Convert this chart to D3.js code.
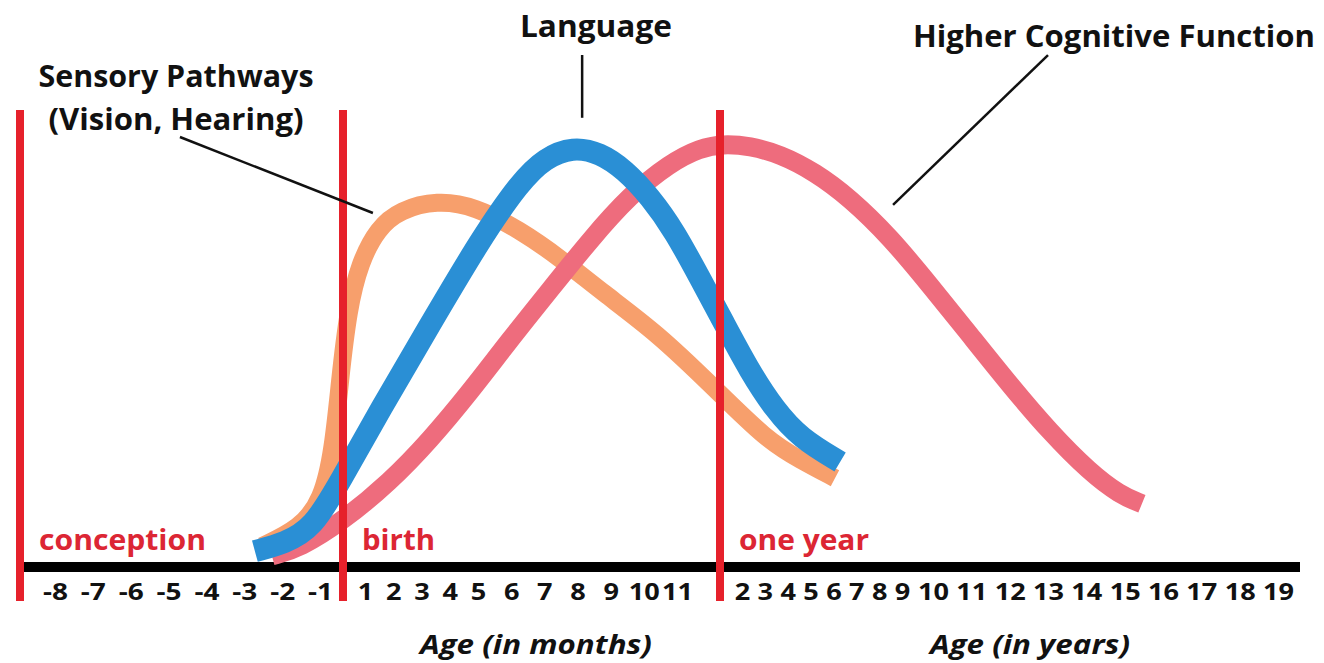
<!DOCTYPE html>
<html>
<head>
<meta charset="utf-8">
<script src="https://cdn.jsdelivr.net/npm/d3@7"></script>
<style>
html,body{margin:0;padding:0;background:#fff;}
svg{display:block;}
text{font-family:"Open Sans","DejaVu Sans",sans-serif;font-weight:700;}
</style>
</head>
<body>
<svg id="chart" width="1324" height="663"></svg>
<script>
// ---------------- DATA (age in months, relative development 0-100) ----------------
const sensoryAge = [-2.53, -1.53, -0.91, -0.43, -0.13, 0.23, 0.77, 1.46, 2.24, 3.55, 4.89, 6.27, 7.47, 8.77, 10.40, 11.84, 37.1, 54.5, 72.8];
const sensoryVal = [4.9, 9.1, 15.7, 27.4, 43.8, 60.2, 71.4, 79.4, 83.6, 85.9, 84.5, 78.9, 72.4, 64.2, 54.8, 42.2, 29.7, 25.1, 20.8];

const languageAge = [-2.72, -1.93, -1.19, -0.13, 1.53, 3.30, 5.06, 6.27, 7.02, 7.86, 8.68, 9.43, 10.19, 10.94, 11.53, 14.7, 28.2, 41.3, 54.5, 75.5];
const languageVal = [3.7, 5.6, 9.1, 19.9, 36.8, 56.7, 76.6, 90.2, 95.8, 98.4, 97.0, 93.0, 86.7, 78.5, 67.7, 56.7, 45.7, 36.8, 30.2, 24.6];

const cognitiveAge = [-2.27, -1.53, 0, 1.88, 3.30, 4.72, 5.96, 7.17, 8.38, 9.58, 10.79, 11.53, 13.6, 28.2, 44.0, 62.3, 80.7, 101.7, 118.8, 131.6, 144.1, 156.6, 169.1, 178.5, 185.4];
const cognitiveVal = [2.6, 4.4, 10.8, 19.9, 29.7, 41.0, 53.2, 64.9, 76.6, 87.1, 94.6, 98.1, 99.1, 98.6, 96.7, 92.5, 86.4, 77.3, 66.0, 54.3, 42.6, 31.6, 22.2, 16.9, 14.8];

const tickAges = [-8,-7,-6,-5,-4,-3,-2,-1, 1,2,3,4,5,6,7,8,9,10,11,
                  24,36,48,60,72,84,96,108,120,132,144,156,168,180,192,204,216,228];
const tickLabels = ["-8","-7","-6","-5","-4","-3","-2","-1",
                    "1","2","3","4","5","6","7","8","9","10","11",
                    "2","3","4","5","6","7","8","9","10","11","12","13","14","15","16","17","18","19"];

const eventNames = ["conception", "birth", "one year"];
const eventAges = [-9, 0, 12];

const axisTitles = ["Age (in months)", "Age (in years)"];

// leader-line anchors in data units [age, value]
const sensoryLeader = [[-4.70, 100.7], [1.28, 82.9]];
const languageLeader = [[8.14, 119.9], [8.14, 105.2]];
const cognitiveLeader = [[156.0, 119.9], [103.3, 84.8]];

// ---------------- LAYOUT / STYLE ----------------
const svg = d3.select("#chart");

const x = d3.scaleLinear()
  .domain([-9, -8, -1, 0, 1, 5, 11, 12, 24, 108, 120, 228, 235])
  .range([20, 55, 320, 343, 365, 478, 677, 720, 742, 902, 933, 1278, 1300]);
const y = d3.scaleLinear().domain([0, 100]).range([567, 140]);

const RED = "#e6212b", RED_TEXT = "#dc2634";
// drawing order: orange, pink, blue (blue on top)
const series = [
  {age: sensoryAge, val: sensoryVal, color: "#f79f6c", width: 18},
  {age: cognitiveAge, val: cognitiveVal, color: "#ee6c7d", width: 19},
  {age: languageAge, val: languageVal, color: "#2a8fd5", width: 22}
];

// axis baseline
svg.append("line")
  .attr("x1", x(-9) + 4).attr("x2", x(235))
  .attr("y1", y(0)).attr("y2", y(0))
  .attr("stroke", "#000").attr("stroke-width", 10);

// curves
const line = d3.line()
  .x(d => x(d[0])).y(d => y(d[1]))
  .curve(d3.curveBasis);

series.forEach(s => {
  const pts = s.age.map((a, i) => [a, s.val[i]]);
  svg.append("path")
    .attr("d", line(pts))
    .attr("fill", "none")
    .attr("stroke", s.color)
    .attr("stroke-width", s.width)
    .attr("stroke-linecap", "butt")
    .attr("stroke-linejoin", "round");
});

// tick labels via d3 axis
const axisG = svg.append("g")
  .attr("transform", `translate(0,${y(0)})`)
  .call(d3.axisBottom(x).tickValues(tickAges)
    .tickFormat((d, i) => tickLabels[i]).tickSize(0).tickPadding(17));
axisG.select(".domain").remove();
axisG.attr("font-family", null).attr("font-size", null);
axisG.selectAll("text")
  .attr("fill", "#111")
  .style("font-size", "23px")
  .style("font-family", '"Open Sans", sans-serif')
  .style("font-weight", 700)
  .attr("textLength", function() {
    const t = d3.select(this).text();
    let w = 0;
    for (const c of t) w += (c === "-") ? 9.5 : 15.5;
    return w;
  })
  .attr("lengthAdjust", "spacingAndGlyphs");

// axis titles
const titleSpecs = [
  {text: axisTitles[0], x: 536, w: 232},
  {text: axisTitles[1], x: 1030, w: 200}
];
titleSpecs.forEach(t => {
  svg.append("text")
    .attr("x", t.x).attr("y", 654)
    .attr("text-anchor", "middle")
    .style("font-size", "27px").style("font-style", "italic")
    .attr("fill", "#111")
    .attr("textLength", t.w).attr("lengthAdjust", "spacingAndGlyphs")
    .text(t.text);
});

// event markers (red vertical lines + labels)
const eventLabelWidths = [167, 73, 130];
eventAges.forEach((a, i) => {
  svg.append("line")
    .attr("x1", x(a)).attr("x2", x(a))
    .attr("y1", 110).attr("y2", 601)
    .attr("stroke", RED).attr("stroke-width", 8)
    .attr("stroke-linecap", "butt");
  svg.append("text")
    .attr("x", x(a) + 19).attr("y", 550)
    .attr("fill", RED_TEXT)
    .style("font-size", "29px")
    .attr("textLength", eventLabelWidths[i]).attr("lengthAdjust", "spacingAndGlyphs")
    .text(eventNames[i]);
});

// annotations
function leader(p) {
  svg.append("line")
    .attr("x1", x(p[0][0])).attr("y1", y(p[0][1]))
    .attr("x2", x(p[1][0])).attr("y2", y(p[1][1]))
    .attr("stroke", "#111").attr("stroke-width", 2.5);
}
leader(sensoryLeader);
leader(languageLeader);
leader(cognitiveLeader);

const labelSpecs = [
  {text: "Sensory Pathways", cx: 176, by: 87, w: 275},
  {text: "(Vision, Hearing)", cx: 176, by: 130, w: 255},
  {text: "Language", cx: 596, by: 37, w: 152},
  {text: "Higher Cognitive Function", cx: 1114, by: 47, w: 402}
];
labelSpecs.forEach(l => {
  svg.append("text")
    .attr("x", l.cx).attr("y", l.by)
    .attr("text-anchor", "middle")
    .attr("fill", "#111")
    .style("font-size", "30px")
    .attr("textLength", l.w).attr("lengthAdjust", "spacingAndGlyphs")
    .text(l.text);
});
</script>
</body>
</html>
